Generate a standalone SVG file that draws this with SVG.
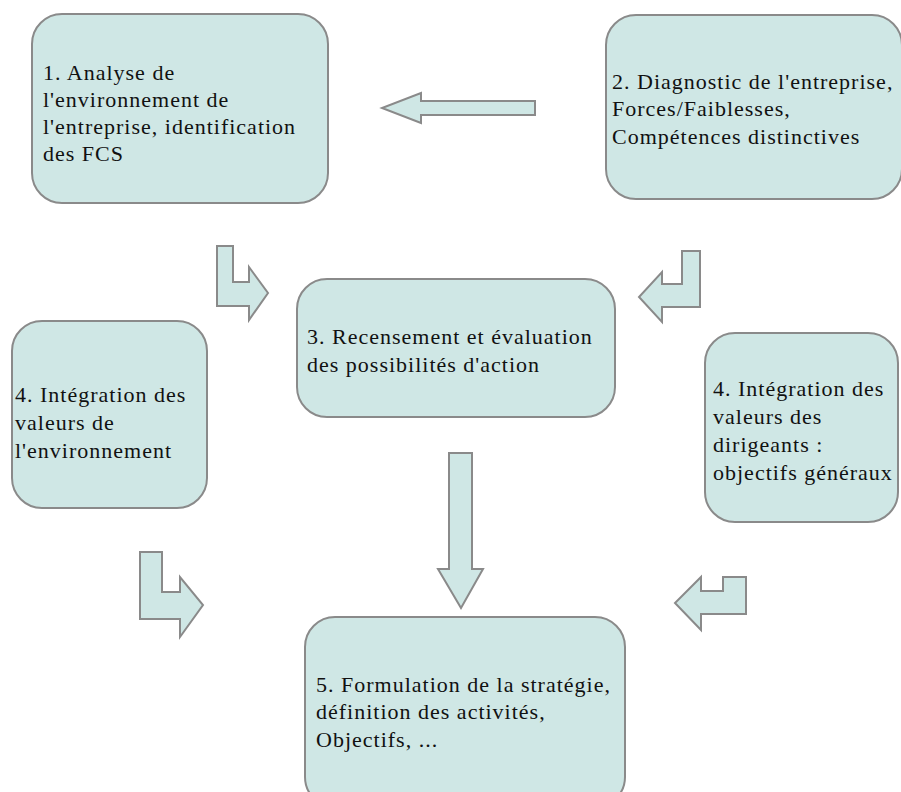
<svg xmlns="http://www.w3.org/2000/svg" width="901" height="792" viewBox="0 0 901 792">
<style>
.box{fill:#cfe7e5;stroke:#8a8a8a;stroke-width:2}
.arr{fill:#cfe7e5;stroke:#8a8a8a;stroke-width:2;stroke-linejoin:miter}
.t{font-family:'Liberation Serif','Times New Roman','DejaVu Serif',serif;font-size:22px;letter-spacing:1px;fill:#111}
</style>
<rect width="901" height="792" fill="#fff"/>
<g id="node1">
<rect class="box" x="32" y="14" width="296" height="189" rx="30" ry="30"/>
<text class="t" x="43" y="80">1. Analyse de</text>
<text class="t" x="43" y="107">l'environnement de</text>
<text class="t" x="43" y="134">l'entreprise, identification</text>
<text class="t" x="43" y="161">des FCS</text>
</g>
<g id="node2">
<rect class="box" x="606" y="15" width="296" height="184" rx="30" ry="30"/>
<text class="t" x="612" y="89">2. Diagnostic de l'entreprise,</text>
<text class="t" x="612" y="116">Forces/Faiblesses,</text>
<text class="t" x="612" y="144">Compétences distinctives</text>
</g>
<g id="node3">
<rect class="box" x="297" y="279" width="318" height="138" rx="30" ry="30"/>
<text class="t" x="307" y="344">3. Recensement et évaluation</text>
<text class="t" x="307" y="372">des possibilités d'action</text>
</g>
<g id="node4a">
<rect class="box" x="12" y="321" width="195" height="187" rx="30" ry="30"/>
<text class="t" x="15" y="402">4. Intégration des</text>
<text class="t" x="15" y="430">valeurs de</text>
<text class="t" x="15" y="458">l'environnement</text>
</g>
<g id="node4b">
<rect class="box" x="705" y="333" width="193" height="189" rx="30" ry="30"/>
<text class="t" x="713" y="396">4. Intégration des</text>
<text class="t" x="713" y="424">valeurs des</text>
<text class="t" x="713" y="452">dirigeants :</text>
<text class="t" x="713" y="480">objectifs généraux</text>
</g>
<g id="node5">
<rect class="box" x="305" y="617" width="320" height="190" rx="30" ry="30"/>
<text class="t" x="316" y="692">5. Formulation de la stratégie,</text>
<text class="t" x="316" y="719">définition des activités,</text>
<text class="t" x="316" y="747">Objectifs, ...</text>
</g>
<g id="connectors">
<polygon class="arr" points="535,101 421,101 421,93 382,108 421,123 421,115 535,115"/>
<polygon class="arr" points="217,246 233,246 233,282 249,282 249,267 268,293 249,320 249,306 217,306"/>
<polygon class="arr" points="682,251 700,251 700,307 662,307 662,322 639,297 662,272 662,284 682,284"/>
<polygon class="arr" points="449,453 472,453 472,569 483,569 461,608 438,569 449,569"/>
<polygon class="arr" points="140,552 162,552 162,592 180,592 180,577 203,605 180,637 180,619 140,619"/>
<polygon class="arr" points="723,577 746,577 746,614 701,614 701,630 675,603 701,577 701,591 723,591"/>
</g>
</svg>
